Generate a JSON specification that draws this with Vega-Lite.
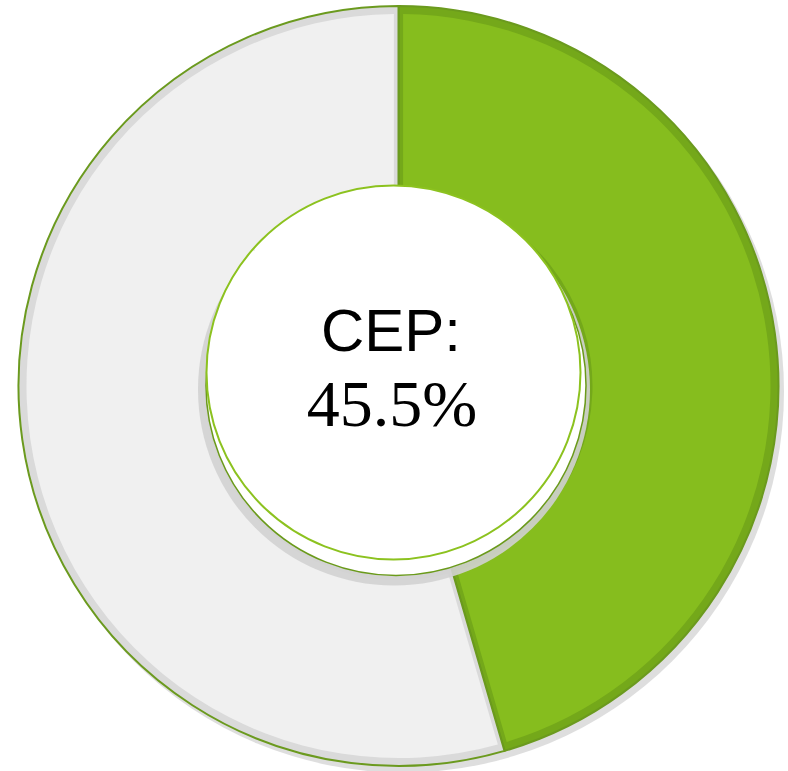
{
  "$schema": "https://vega.github.io/schema/vega-lite/v6.json",
  "width": 788,
  "height": 771,
  "padding": 0,
  "autosize": {"type": "fit", "contains": "padding"},
  "background": "white",
  "config": {"view": {"stroke": null}},
  "datasets": {
    "slices": [
      {"category": "CEP", "value": 45.5},
      {"category": "Other", "value": 54.5}
    ],
    "center": [
      {"label": "CEP:", "pct": "45.5%", "full": 100}
    ]
  },
  "layer": [
    {
      "data": {"name": "center"},
      "mark": {"type": "arc", "radius": 381, "xOffset": 9, "yOffset": 8, "fill": "#bdbdbd", "opacity": 0.5},
      "encoding": {"theta": {"field": "full", "type": "quantitative"}}
    },
    {
      "data": {"name": "slices"},
      "mark": {"type": "arc", "radius": 380, "radius2": 186, "xOffset": 4.5, "yOffset": 2.5, "stroke": "#6b9a1e", "strokeWidth": 2},
      "encoding": {
        "theta": {"field": "value", "type": "quantitative", "stack": true},
        "color": {"field": "category", "type": "nominal", "scale": {"domain": ["CEP", "Other"], "range": ["#74a81a", "#dadada"]}, "legend": null}
      }
    },
    {
      "data": {"name": "slices"},
      "mark": {"type": "arc", "radius": 372, "radius2": 194, "padAngle": 0.022, "xOffset": 4.5, "yOffset": 2.5},
      "encoding": {
        "theta": {"field": "value", "type": "quantitative", "stack": true},
        "fill": {"field": "category", "type": "nominal", "scale": {"domain": ["CEP", "Other"], "range": ["#86bd1e", "#f0f0f0"]}, "legend": null}
      }
    },
    {
      "data": {"name": "center"},
      "mark": {"type": "arc", "radius": 196, "xOffset": 0, "yOffset": 6, "fill": "#d2d2d2", "opacity": 0.9},
      "encoding": {"theta": {"field": "full", "type": "quantitative"}}
    },
    {
      "data": {"name": "center"},
      "mark": {"type": "arc", "radius": 190, "xOffset": 2, "yOffset": 2, "fill": "#ffffff", "stroke": "#6a9a1a", "strokeWidth": 1.5},
      "encoding": {"theta": {"field": "full", "type": "quantitative"}}
    },
    {
      "data": {"name": "center"},
      "mark": {"type": "arc", "radius": 187, "xOffset": -0.5, "yOffset": -11, "fill": "#ffffff", "stroke": "#8cc21f", "strokeWidth": 2},
      "encoding": {"theta": {"field": "full", "type": "quantitative"}}
    },
    {
      "data": {"name": "center"},
      "mark": {"type": "text", "font": "Liberation Sans", "fontSize": 60, "color": "#000000", "baseline": "alphabetic", "align": "center", "dx": -3, "dy": -33},
      "encoding": {"text": {"field": "label", "type": "nominal"}}
    },
    {
      "data": {"name": "center"},
      "mark": {"type": "text", "font": "Liberation Serif", "fontSize": 66, "color": "#000000", "baseline": "alphabetic", "align": "center", "dx": -2, "dy": 42},
      "encoding": {"text": {"field": "pct", "type": "nominal"}}
    }
  ],
  "resolve": {"scale": {"color": "independent", "fill": "independent", "theta": "independent"}}
}
